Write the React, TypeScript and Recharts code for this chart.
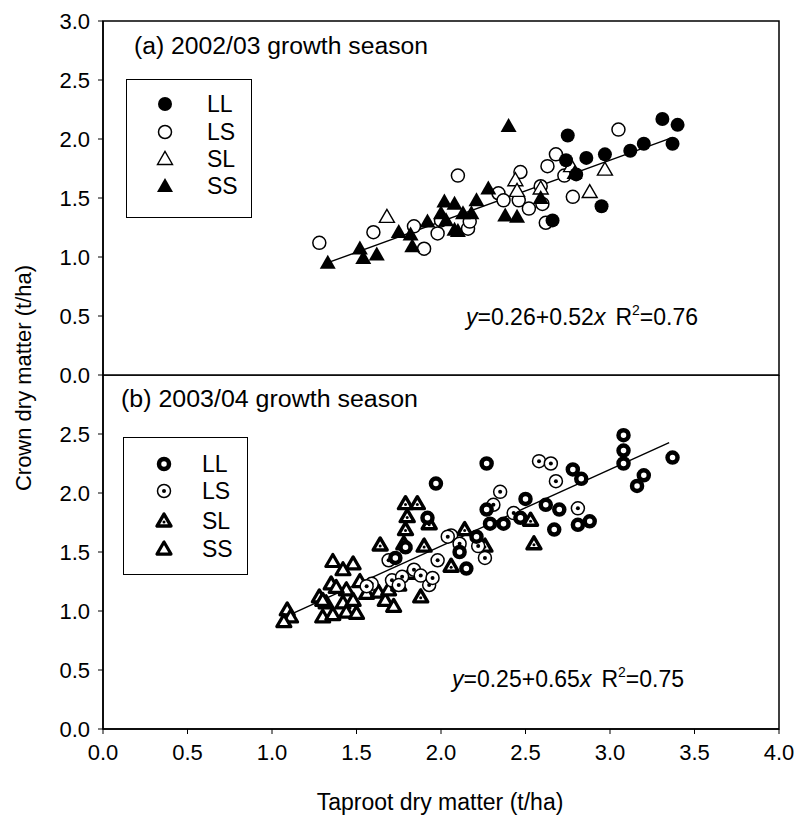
import React from 'react'
import { ScatterChart, Scatter, XAxis, YAxis, ReferenceArea, ReferenceLine, Legend } from 'recharts'

const FONT = '"Liberation Sans", Arial, Helvetica, sans-serif'

const xTicks = [0, 0.5, 1, 1.5, 2, 2.5, 3, 3.5, 4]
const yTicksA = [0, 0.5, 1, 1.5, 2, 2.5, 3]
const yTicksB = [0, 0.5, 1, 1.5, 2, 2.5]
const seriesNames = ['LL', 'LS', 'SL', 'SS']

// (a) 2002/03 growth season
const llA = [
  { x: 2.75, y: 2.03 }, { x: 2.74, y: 1.82 }, { x: 2.8, y: 1.7 }, { x: 2.86, y: 1.84 },
  { x: 2.97, y: 1.87 }, { x: 3.12, y: 1.9 }, { x: 3.2, y: 1.96 }, { x: 3.31, y: 2.17 },
  { x: 3.4, y: 2.12 }, { x: 3.37, y: 1.96 }, { x: 2.95, y: 1.43 }, { x: 2.66, y: 1.31 }
]
const lsA = [
  { x: 1.28, y: 1.12 }, { x: 1.6, y: 1.21 }, { x: 1.84, y: 1.26 }, { x: 1.9, y: 1.07 },
  { x: 1.98, y: 1.2 }, { x: 2.0, y: 1.31 }, { x: 2.1, y: 1.69 }, { x: 2.16, y: 1.24 },
  { x: 2.17, y: 1.3 }, { x: 2.34, y: 1.54 }, { x: 2.37, y: 1.48 }, { x: 2.47, y: 1.72 },
  { x: 2.46, y: 1.48 }, { x: 2.52, y: 1.41 }, { x: 2.6, y: 1.45 }, { x: 2.59, y: 1.6 },
  { x: 2.62, y: 1.29 }, { x: 2.63, y: 1.77 }, { x: 2.68, y: 1.87 }, { x: 2.73, y: 1.69 },
  { x: 2.78, y: 1.51 }, { x: 3.05, y: 2.08 }
]
const slA = [
  { x: 1.68, y: 1.34 }, { x: 2.44, y: 1.65 }, { x: 2.45, y: 1.56 }, { x: 2.59, y: 1.58 },
  { x: 2.77, y: 1.77 }, { x: 2.97, y: 1.74 }, { x: 2.88, y: 1.55 }
]
const ssA = [
  { x: 1.33, y: 0.95 }, { x: 1.52, y: 1.07 }, { x: 1.54, y: 0.99 }, { x: 1.62, y: 1.02 },
  { x: 1.75, y: 1.21 }, { x: 1.82, y: 1.19 }, { x: 1.83, y: 1.09 }, { x: 1.92, y: 1.3 },
  { x: 2.02, y: 1.47 }, { x: 2.08, y: 1.45 }, { x: 2.08, y: 1.23 }, { x: 2.13, y: 1.37 },
  { x: 2.21, y: 1.48 }, { x: 2.28, y: 1.58 }, { x: 2.38, y: 1.35 }, { x: 2.45, y: 1.34 },
  { x: 2.4, y: 2.11 }, { x: 2.59, y: 1.5 }, { x: 2.79, y: 1.71 }, { x: 2.03, y: 1.31 },
  { x: 2.0, y: 1.37 }, { x: 2.18, y: 1.37 }, { x: 2.1, y: 1.22 }
]

// (b) 2003/04 growth season
const llB = [
  { x: 2.27, y: 2.25 }, { x: 1.97, y: 2.08 }, { x: 3.08, y: 2.49 }, { x: 3.08, y: 2.36 },
  { x: 3.08, y: 2.25 }, { x: 3.37, y: 2.3 }, { x: 3.2, y: 2.15 }, { x: 3.16, y: 2.06 },
  { x: 2.78, y: 2.2 }, { x: 2.83, y: 2.12 }, { x: 2.7, y: 1.86 }, { x: 2.62, y: 1.9 },
  { x: 2.81, y: 1.73 }, { x: 2.88, y: 1.76 }, { x: 2.67, y: 1.69 }, { x: 2.5, y: 1.95 },
  { x: 2.37, y: 1.74 }, { x: 2.29, y: 1.74 }, { x: 2.27, y: 1.86 }, { x: 1.92, y: 1.79 },
  { x: 2.15, y: 1.36 }, { x: 2.11, y: 1.5 }, { x: 2.21, y: 1.63 }, { x: 1.73, y: 1.45 },
  { x: 1.79, y: 1.54 }, { x: 2.47, y: 1.79 }
]
const lsB = [
  { x: 2.58, y: 2.27 }, { x: 2.65, y: 2.25 }, { x: 2.68, y: 2.1 }, { x: 2.81, y: 1.87 },
  { x: 2.35, y: 2.01 }, { x: 2.31, y: 1.9 }, { x: 2.43, y: 1.83 }, { x: 2.26, y: 1.45 },
  { x: 2.22, y: 1.55 }, { x: 2.06, y: 1.64 }, { x: 1.98, y: 1.43 }, { x: 1.93, y: 1.22 },
  { x: 1.71, y: 1.26 }, { x: 1.69, y: 1.43 }, { x: 1.59, y: 1.23 }, { x: 1.77, y: 1.29 },
  { x: 1.84, y: 1.35 }, { x: 2.11, y: 1.57 }, { x: 2.04, y: 1.63 }, { x: 1.56, y: 1.21 },
  { x: 1.75, y: 1.22 }, { x: 1.88, y: 1.3 }, { x: 1.95, y: 1.28 }
]
const slB = [
  { x: 1.79, y: 1.91 }, { x: 1.86, y: 1.91 }, { x: 1.8, y: 1.8 }, { x: 1.79, y: 1.69 },
  { x: 1.93, y: 1.74 }, { x: 1.78, y: 1.57 }, { x: 1.64, y: 1.56 }, { x: 1.9, y: 1.55 },
  { x: 2.14, y: 1.69 }, { x: 2.55, y: 1.57 }, { x: 2.53, y: 1.77 }, { x: 2.26, y: 1.55 },
  { x: 2.06, y: 1.38 }, { x: 1.88, y: 1.12 }, { x: 1.82, y: 1.32 }, { x: 1.75, y: 1.22 }
]
const ssB = [
  { x: 1.09, y: 1.01 }, { x: 1.11, y: 0.95 }, { x: 1.07, y: 0.91 }, { x: 1.3, y: 0.95 },
  { x: 1.36, y: 0.97 }, { x: 1.36, y: 1.42 }, { x: 1.48, y: 1.4 }, { x: 1.42, y: 1.35 },
  { x: 1.52, y: 1.25 }, { x: 1.35, y: 1.23 }, { x: 1.28, y: 1.12 }, { x: 1.32, y: 1.07 },
  { x: 1.42, y: 1.07 }, { x: 1.44, y: 0.99 }, { x: 1.5, y: 0.98 }, { x: 1.44, y: 1.18 },
  { x: 1.56, y: 1.15 }, { x: 1.63, y: 1.16 }, { x: 1.67, y: 1.09 }, { x: 1.72, y: 1.04 },
  { x: 1.69, y: 1.18 }, { x: 1.48, y: 1.09 }, { x: 1.3, y: 1.09 }, { x: 1.38, y: 1.2 }
]

// regression lines: y = a + b x, drawn over the fitted x range
const fitA = { a: 0.26, b: 0.52, from: 1.31, to: 3.36 }
const fitB = { a: 0.25, b: 0.65, from: 1.12, to: 3.35 }

const tri = (cx: number, cy: number, w: number, h: number) =>
  `${cx},${cy - h * 0.58} ${cx - w / 2},${cy + h * 0.42} ${cx + w / 2},${cy + h * 0.42}`

// markers, panel (a)
const DotFilled = ({ cx, cy }: any) => <circle cx={cx} cy={cy} r={7} fill="#000" />
const DotOpen = ({ cx, cy }: any) => <circle cx={cx} cy={cy} r={6.5} fill="#fff" stroke="#000" strokeWidth={1.5} />
const TriOpen = ({ cx, cy }: any) => (
  <polygon points={tri(cx, cy, 15, 13)} fill="#fff" stroke="#000" strokeWidth={1.4} />
)
const TriFilled = ({ cx, cy }: any) => <polygon points={tri(cx, cy, 16, 14)} fill="#000" />

// markers, panel (b)
const RingThick = ({ cx, cy }: any) => (
  <circle cx={cx} cy={cy} r={5} fill="#fff" stroke="#000" strokeWidth={4.5} />
)
const RingDot = ({ cx, cy }: any) => (
  <g>
    <circle cx={cx} cy={cy} r={6.5} fill="#fff" stroke="#000" strokeWidth={1.5} />
    <circle cx={cx} cy={cy} r={2} fill="#000" />
  </g>
)
const TriDot = ({ cx, cy }: any) => (
  <g>
    <polygon points={tri(cx, cy, 14, 12)} fill="#fff" stroke="#000" strokeWidth={3.4} strokeLinejoin="round" />
    <circle cx={cx} cy={cy + 1} r={1.5} fill="#000" />
  </g>
)
const TriThick = ({ cx, cy }: any) => (
  <polygon points={tri(cx, cy, 14, 12)} fill="#fff" stroke="#000" strokeWidth={3.2} strokeLinejoin="round" />
)

const shapesA = [DotFilled, DotOpen, TriOpen, TriFilled]
const shapesB = [RingThick, RingDot, TriDot, TriThick]

const LegendBox = ({ shapes, width, height, rows, markerX, textX }: any) => (
  <div
    style={{
      position: 'relative',
      width,
      height,
      boxSizing: 'border-box',
      border: '1.5px solid #000',
      background: '#fff',
      fontFamily: FONT,
      fontSize: 23,
      color: '#000'
    }}
  >
    {seriesNames.map((name, i) => {
      const Shape = shapes[i]
      return (
        <div key={name} style={{ position: 'absolute', left: 0, top: rows[i] - 12, height: 24, width: '100%' }}>
          <svg width={24} height={24} style={{ position: 'absolute', left: markerX - 12, top: 0 }}>
            <Shape cx={12} cy={12} />
          </svg>
          <span style={{ position: 'absolute', left: textX, top: 0, lineHeight: '24px' }}>{name}</span>
        </div>
      )
    })}
  </div>
)

const tickStyle = { fill: '#000', fontSize: 22, fontFamily: FONT }
const axisLine = { stroke: '#000', strokeWidth: 1.5 }
const margin = { left: 43, right: 17 }

export default function App() {
  return (
    <div style={{ position: 'absolute', left: 0, top: 0, width: 796, height: 817, background: '#fff', fontFamily: FONT }}>
      <div style={{ position: 'absolute', left: 0, top: 0 }}>
        <ScatterChart width={796} height={400} margin={{ top: 21, bottom: 25, ...margin }}>
          <XAxis type="number" dataKey="x" domain={[0, 4]} ticks={xTicks} hide />
          <YAxis
            type="number"
            dataKey="y"
            domain={[0, 3]}
            ticks={yTicksA}
            width={60}
            tick={tickStyle}
            tickFormatter={(v: number) => v.toFixed(1)}
            tickSize={5}
            tickMargin={8}
            tickLine={{ stroke: '#000' }}
            axisLine={axisLine}
            interval={0}
          />
          <ReferenceArea x1={0} x2={4} y1={0} y2={3} fill="none" stroke="#000" strokeWidth={1.5} />
          <ReferenceLine
            segment={[
              { x: fitA.from, y: fitA.a + fitA.b * fitA.from },
              { x: fitA.to, y: fitA.a + fitA.b * fitA.to }
            ]}
            stroke="#000"
            strokeWidth={1.4}
          />
          <Scatter name="LS" data={lsA} shape={DotOpen} isAnimationActive={false} />
          <Scatter name="SL" data={slA} shape={TriOpen} isAnimationActive={false} />
          <Scatter name="LL" data={llA} shape={DotFilled} isAnimationActive={false} />
          <Scatter name="SS" data={ssA} shape={TriFilled} isAnimationActive={false} />
          <Legend
            layout="vertical"
            align="center"
            verticalAlign="middle"
            wrapperStyle={{ left: 126, top: 79, width: 126 }}
            content={() => (
              <LegendBox shapes={shapesA} width={126} height={139} rows={[24, 52, 79, 106]} markerX={38} textX={80} />
            )}
          />
        </ScatterChart>
      </div>

      <div style={{ position: 'absolute', left: 0, top: 375 }}>
        <ScatterChart width={796} height={442} margin={{ top: 0, bottom: 7, ...margin }}>
          <XAxis
            type="number"
            dataKey="x"
            domain={[0, 4]}
            ticks={xTicks}
            interval={0}
            height={81}
            tick={tickStyle}
            tickFormatter={(v: number) => v.toFixed(1)}
            tickSize={5}
            tickMargin={10}
            tickLine={{ stroke: '#000' }}
            axisLine={axisLine}
          />
          <YAxis
            type="number"
            dataKey="y"
            domain={[0, 3]}
            ticks={yTicksB}
            width={60}
            tick={tickStyle}
            tickFormatter={(v: number) => v.toFixed(1)}
            tickSize={5}
            tickMargin={8}
            tickLine={{ stroke: '#000' }}
            axisLine={axisLine}
            interval={0}
          />
          <ReferenceArea x1={0} x2={4} y1={0} y2={3} fill="none" stroke="#000" strokeWidth={1.5} />
          <ReferenceLine
            segment={[
              { x: fitB.from, y: fitB.a + fitB.b * fitB.from },
              { x: fitB.to, y: fitB.a + fitB.b * fitB.to }
            ]}
            stroke="#000"
            strokeWidth={1.4}
          />
          <Scatter name="SS" data={ssB} shape={TriThick} isAnimationActive={false} />
          <Scatter name="SL" data={slB} shape={TriDot} isAnimationActive={false} />
          <Scatter name="LS" data={lsB} shape={RingDot} isAnimationActive={false} />
          <Scatter name="LL" data={llB} shape={RingThick} isAnimationActive={false} />
          <Legend
            layout="vertical"
            align="center"
            verticalAlign="middle"
            wrapperStyle={{ left: 123, top: 62, width: 125 }}
            content={() => (
              <LegendBox shapes={shapesB} width={125} height={138} rows={[26, 53, 83, 111]} markerX={40} textX={78} />
            )}
          />
        </ScatterChart>
      </div>

      <svg
        width={796}
        height={817}
        style={{ position: 'absolute', left: 0, top: 0, pointerEvents: 'none' }}
        fontFamily={FONT}
        fill="#000"
      >
        <text x={134} y={54} fontSize={23} textLength={294} lengthAdjust="spacingAndGlyphs">
          (a) 2002/03 growth season
        </text>
        <text x={121} y={407} fontSize={23} textLength={297} lengthAdjust="spacingAndGlyphs">
          (b) 2003/04 growth season
        </text>
        <text x={466} y={325} fontSize={23}>
          <tspan fontStyle="italic">y</tspan>=0.26+0.52<tspan fontStyle="italic">x</tspan>
          <tspan dx={10}>R</tspan>
          <tspan dy={-10} fontSize={14}>2</tspan>
          <tspan dy={10}>=0.76</tspan>
        </text>
        <text x={452} y={687} fontSize={23}>
          <tspan fontStyle="italic">y</tspan>=0.25+0.65<tspan fontStyle="italic">x</tspan>
          <tspan dx={10}>R</tspan>
          <tspan dy={-10} fontSize={14}>2</tspan>
          <tspan dy={10}>=0.75</tspan>
        </text>
        <text x={31} y={378} fontSize={22} textAnchor="middle" transform="rotate(-90 31 378)">
          Crown dry matter (t/ha)
        </text>
        <text x={440} y={810} fontSize={23} textAnchor="middle">
          Taproot dry matter (t/ha)
        </text>
      </svg>
    </div>
  )
}
